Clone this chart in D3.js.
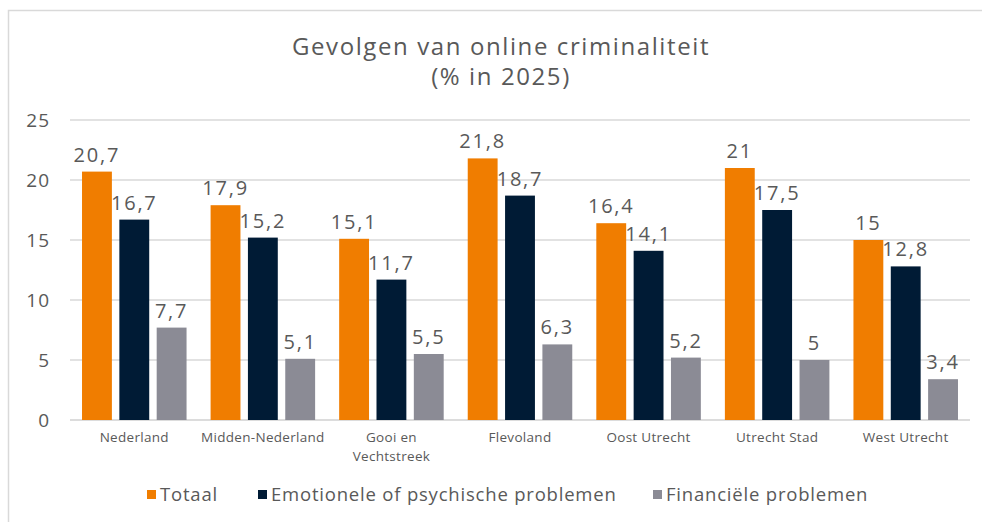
<!DOCTYPE html>
<meta charset="UTF-8">
<head>
    <title>Gevolgen van online criminaliteit</title>
</head>
<style>
    body { margin: 0; background: #fff; }
    text { font-family: "Open Sans", sans-serif; fill: #595959; }
</style>
<body>
    <div id="chart"></div>
    <script src="https://cdn.jsdelivr.net/npm/d3@7"></script>
    <script>
        // data
        var categories = ["Nederland", "Midden-Nederland", "Gooi en\nVechtstreek", "Flevoland", "Oost Utrecht", "Utrecht Stad", "West Utrecht"];
        var seriesNames = ["Totaal", "Emotionele of psychische problemen", "Financiële problemen"];
        var totaal = [20.7, 17.9, 15.1, 21.8, 16.4, 21, 15];
        var emotioneel = [16.7, 15.2, 11.7, 18.7, 14.1, 17.5, 12.8];
        var financieel = [7.7, 5.1, 5.5, 6.3, 5.2, 5, 3.4];
        var yTicks = [0, 5, 10, 15, 20, 25];
        var colors = ["#F07D00", "#001B35", "#8B8B95"];

        var w = 982, h = 522;
        var svg = d3.select("#chart").append("svg")
            .attr("width", w)
            .attr("height", h);

        // kader
        svg.append("rect")
            .attr("x", 8.5).attr("y", 10.5)
            .attr("width", 1000).attr("height", 600)
            .attr("fill", "none")
            .attr("stroke", "#d9d9d9")
            .attr("stroke-width", 1.5);

        // titel
        svg.append("text").attr("x", 501).attr("y", 55)
            .attr("text-anchor", "middle").attr("font-size", 24)
            .attr("letter-spacing", 1.6)
            .text("Gevolgen van online criminaliteit");
        svg.append("text").attr("x", 501).attr("y", 85)
            .attr("text-anchor", "middle").attr("font-size", 24)
            .attr("letter-spacing", 1.6)
            .text("(% in 2025)");

        var y = d3.scaleLinear().domain([0, 25]).range([420, 120]);
        var x0 = d3.scaleBand().domain(categories).range([70, 970]).paddingInner(0.187).paddingOuter(0.0935);
        var x1 = d3.scaleBand().domain([0, 1, 2]).range([0, x0.bandwidth()]).paddingInner(0.2);

        // gridlijnen
        svg.selectAll(".grid").data(yTicks).enter().append("line")
            .attr("x1", 70).attr("x2", 970)
            .attr("y1", d => y(d)).attr("y2", d => y(d))
            .attr("stroke", d => d == 0 ? "#d0d0d0" : "#d9d9d9")
            .attr("stroke-width", 1.5);

        svg.selectAll(".ylab").data(yTicks).enter().append("text")
            .attr("x", 50).attr("y", d => y(d) + 7)
            .attr("text-anchor", "end").attr("font-size", 19)
            .attr("letter-spacing", 1)
            .text(d => d);

        var series = [totaal, emotioneel, financieel];
        var groups = svg.selectAll(".grp").data(categories).enter().append("g")
            .attr("transform", d => "translate(" + x0(d) + ",0)");

        groups.selectAll("rect").data((d, i) => series.map((s, k) => ({ k: k, v: s[i] })))
            .enter().append("rect")
            .attr("x", d => x1(d.k))
            .attr("width", x1.bandwidth())
            .attr("y", d => y(d.v))
            .attr("height", d => y(0) - y(d.v))
            .attr("fill", d => colors[d.k]);

        groups.selectAll(".val").data((d, i) => series.map((s, k) => ({ k: k, v: s[i] })))
            .enter().append("text")
            .attr("x", d => x1(d.k) + x1.bandwidth() / 2)
            .attr("y", d => y(d.v) - 10)
            .attr("text-anchor", "middle").attr("font-size", 20)
            .attr("letter-spacing", 1.8)
            .text(d => String(d.v).replace(".", ","));

        // categorie labels (aparte regels)
        groups.each(function (d) {
            var g = d3.select(this);
            d.split("\n").forEach((line, j) => {
                g.append("text")
                    .attr("text-anchor", "middle").attr("font-size", 13.5)
                    .attr("letter-spacing", 0.3)
                    .attr("x", x0.bandwidth() / 2).attr("y", 442 + j * 18.5)
                    .text(line);
            });
        });

        // legenda
        var legendX = [147, 258, 653];
        seriesNames.forEach((name, k) => {
            svg.append("rect").attr("x", legendX[k]).attr("y", 490)
                .attr("width", 9).attr("height", 9).attr("fill", colors[k]);
            svg.append("text").attr("x", legendX[k] + 13).attr("y", 501)
                .attr("font-size", 18.5).attr("letter-spacing", 0.8).text(name);
        });
    </script>
</body>
</html>
